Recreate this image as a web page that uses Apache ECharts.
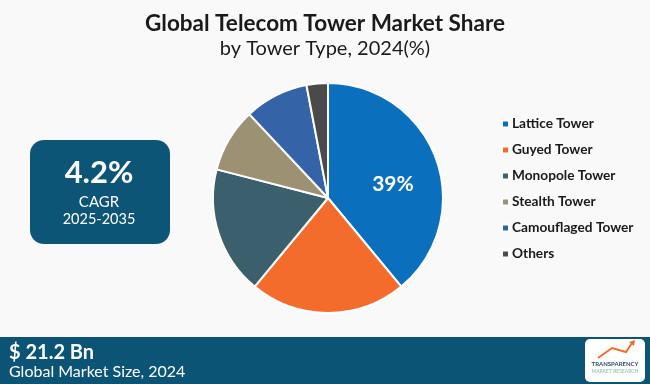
<!DOCTYPE html>
<html>
<head>
<meta charset="utf-8">
<script src="https://cdn.jsdelivr.net/npm/echarts@6/dist/echarts.min.js"></script>
<style>
html,body{margin:0;padding:0;background:#f9f9f9;}
#chart{width:650px;height:384px;}
</style>
</head>
<body>
<div id="chart"></div>
<script>
var categories = ['Lattice Tower', 'Guyed Tower', 'Monopole Tower', 'Stealth Tower', 'Camouflaged Tower', 'Others'];
var shares = [39, 22, 18, 9, 9, 3];
var colors = ['#0a6fbd', '#f36c2b', '#3c5f6d', '#9d9174', '#3563a8', '#4a4a4a'];
var titleText = 'Global Telecom Tower Market Share';
var subtitleText = 'by Tower Type, 2024(%)';
var cagrValue = '4.2%';
var cagrLabel = 'CAGR';
var cagrPeriod = '2025-2035';
var marketSize = '$ 21.2 Bn';
var marketLabel = 'Global Market Size, 2024';

var chart = echarts.init(document.getElementById('chart'), null, {renderer: 'canvas'});
var font = 'Lato, "Open Sans", sans-serif';
var option = {
  backgroundColor: '#f9f9f9',
  animation: false,
  color: colors,
  title: [
    {text: titleText, left: 'center', top: 7, textStyle: {fontFamily: font, fontWeight: 'bold', fontSize: 22.5, color: '#1a1a1a'}},
    {text: subtitleText, left: 'center', top: 34, textStyle: {fontFamily: font, fontWeight: 'normal', fontSize: 20, color: '#1a1a1a'}}
  ],
  legend: {
    orient: 'vertical',
    left: 496,
    top: 112,
    itemWidth: 7,
    itemHeight: 7,
    itemGap: 12,
    icon: 'rect',
    textStyle: {fontFamily: font, fontWeight: 'bold', fontSize: 13.7, lineHeight: 14, color: '#1a1a1a', padding: [0, 0, 0, -2]},
    data: categories
  },
  series: [{
    type: 'pie',
    center: [328, 198],
    radius: [0, 115],
    startAngle: 90,
    clockwise: true,
    itemStyle: {borderColor: '#ffffff', borderWidth: 2},
    label: {show: false},
    labelLine: {show: false},
    emphasis: {disabled: true},
    data: categories.map(function (c, i) {
      var d = {name: c, value: shares[i]};
      if (i === 0) {
        d.label = {show: true, position: 'inside', formatter: shares[i] + '%', color: '#ffffff', fontFamily: font, fontWeight: 'bold', fontSize: 21, offset: [8, 7]};
      }
      return d;
    })
  }],
  graphic: [
    {type: 'rect', shape: {x: 30, y: 140, width: 140, height: 104, r: 14}, style: {fill: '#0d5576'}},
    {type: 'text', x: 99, y: 173, style: {text: cagrValue, fill: '#ffffff', font: 'bold 31px ' + font, align: 'center', verticalAlign: 'middle'}},
    {type: 'text', x: 99, y: 202, style: {text: cagrLabel, fill: '#ffffff', font: '15px ' + font, align: 'center', verticalAlign: 'middle'}},
    {type: 'text', x: 99, y: 219, style: {text: cagrPeriod, fill: '#ffffff', font: '14.5px ' + font, align: 'center', verticalAlign: 'middle'}},
    {type: 'rect', shape: {x: 0, y: 337, width: 650, height: 47}, style: {fill: '#0b5475'}},
    {type: 'text', x: 9, y: 353, style: {text: marketSize, fill: '#ffffff', font: 'bold 20px ' + font, verticalAlign: 'middle'}},
    {type: 'text', x: 9, y: 372, style: {text: marketLabel, fill: '#ffffff', font: '16px ' + font, verticalAlign: 'middle'}},
    {type: 'rect', shape: {x: 585, y: 339, width: 60, height: 43, r: 5}, style: {fill: '#ffffff'}},
    {type: 'text', x: 615, y: 364, style: {text: 'TRANSPARENCY', fill: '#2c4a6e', font: 'bold 6px ' + font, align: 'center', verticalAlign: 'middle'}},
    {type: 'text', x: 615, y: 371, style: {text: 'MARKET RESEARCH', fill: '#8fb7b0', font: '5px ' + font, align: 'center', verticalAlign: 'middle'}},
    {type: 'polyline', shape: {points: [[598, 358], [612, 348], [626, 352], [632, 343]]}, style: {stroke: '#f36c2b', lineWidth: 2, fill: null}},
    {type: 'polygon', shape: {points: [[629, 342], [635, 340], [634, 346]]}, style: {fill: '#f36c2b'}}
  ]
};
chart.setOption(option);
</script>
</body>
</html>
